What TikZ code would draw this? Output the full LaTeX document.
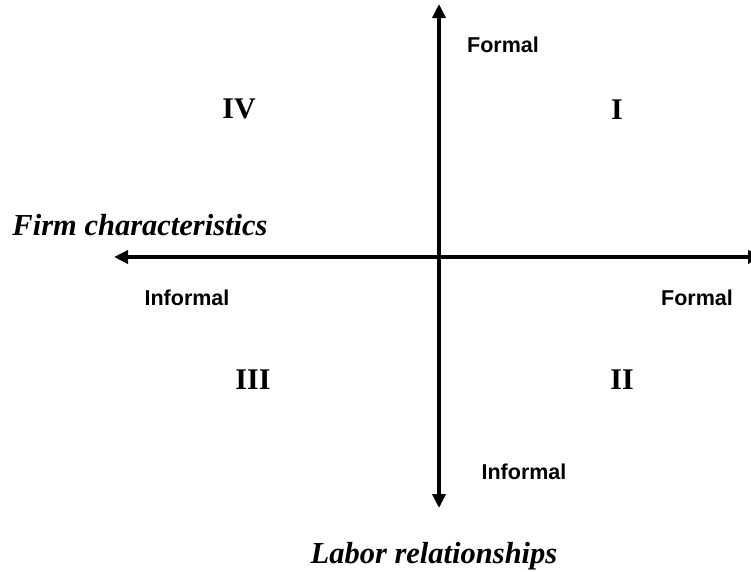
\documentclass[tikz,border=0pt]{standalone}
\usepackage{fontspec}
\setmainfont{Liberation Serif}
\newfontfamily\labelsans{Liberation Sans}
\usetikzlibrary{arrows.meta}
\begin{document}
\begin{tikzpicture}[x=1pt,y=-1pt,
  axis/.style={line width=3.4pt,-{Triangle[length=14pt,width=13pt]}},
  smalllab/.style={anchor=base,font=\labelsans\bfseries\fontsize{21.5}{24}\selectfont},
  numeral/.style={anchor=base,font=\bfseries\fontsize{30}{33}\selectfont},
  axislab/.style={anchor=base,font=\bfseries\itshape\fontsize{30.5}{33}\selectfont}]
\useasboundingbox (0,0) rectangle (751,571);
\clip (0,0) rectangle (751,571);
\coordinate (top) at (439,4);
\coordinate (bottom) at (439,508);
\coordinate (left) at (114,257);
\coordinate (right) at (762,257);
\coordinate (c) at (439,257);
\draw[axis] (c) -- (top);
\draw[axis] (c) -- (bottom);
\draw[axis] (c) -- (left);
\draw[axis] (c) -- (right);
\node[smalllab] (ftop) at (503,52) {Formal};
\node[smalllab] (fright) at (697,305) {Formal};
\node[smalllab] (ileft) at (187,305) {Informal};
\node[smalllab] (ibottom) at (524,479) {Informal};
\node[numeral] (q1) at (617,119) {I};
\node[numeral] (q2) at (622,389) {II};
\node[numeral] (q3) at (253,389) {III};
\node[numeral] (q4) at (239,118) {IV};
\node[axislab] (firm) at (140,235) {Firm characteristics};
\node[axislab] (labor) at (434,563) {Labor relationships};
\end{tikzpicture}
\end{document}
